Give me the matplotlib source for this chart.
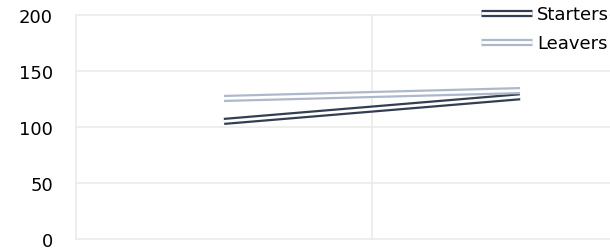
import matplotlib
matplotlib.use("Agg")
import matplotlib.pyplot as plt
import matplotlib.patheffects as pe

categories = [1, 2]
starters = [105, 127]
leavers = [125.5, 132.5]
yticks = [0, 50, 100, 150, 200]

dark = "#333f50"
light = "#adb9ca"
grid_col = "#ebebeb"

plt.rcParams["font.family"] = ["DejaVu Sans"]

fig = plt.figure(figsize=(6.10, 2.51), dpi=100)
ax = fig.add_axes([76 / 610, 11 / 251, 1 - 76 / 610, 224 / 251])


def double(color):
    return [pe.Stroke(linewidth=5.2, foreground=color),
            pe.Stroke(linewidth=2.0, foreground="white")]


ax.plot(categories, starters, color=dark, lw=5.2, label="Starters",
        solid_capstyle="butt", path_effects=double(dark), zorder=3)
ax.plot(categories, leavers, color=light, lw=5.2, label="Leavers",
        solid_capstyle="butt", path_effects=double(light), zorder=3)

ax.set_yticks(yticks)
ax.set_xticks([0.5, 1.5, 2.5])
ax.set_xticklabels([])
ax.set_xlim(0.5, 0.5 + (610 - 76) / 296)
ax.set_ylim(0, 200)
ax.tick_params(length=0, labelsize=13, pad=16.5, colors="black")
for s in ax.spines.values():
    s.set_visible(False)
ax.grid(True, color=grid_col, lw=1.2, zorder=0)
for gl in ax.get_xgridlines() + ax.get_ygridlines():
    gl.set_clip_on(False)
ax.set_axisbelow(True)

leg = fig.legend(loc="upper right", bbox_to_anchor=(609 / 610, 1 - 6 / 251),
                 frameon=True, fontsize=13, handlelength=2.8,
                 handletextpad=0.3, labelspacing=0.6, borderpad=0.0,
                 borderaxespad=0.0)
leg.get_frame().set_edgecolor("none")
leg.get_frame().set_facecolor("white")
leg.get_frame().set_alpha(1)

fig.savefig("out.png", dpi=100)
